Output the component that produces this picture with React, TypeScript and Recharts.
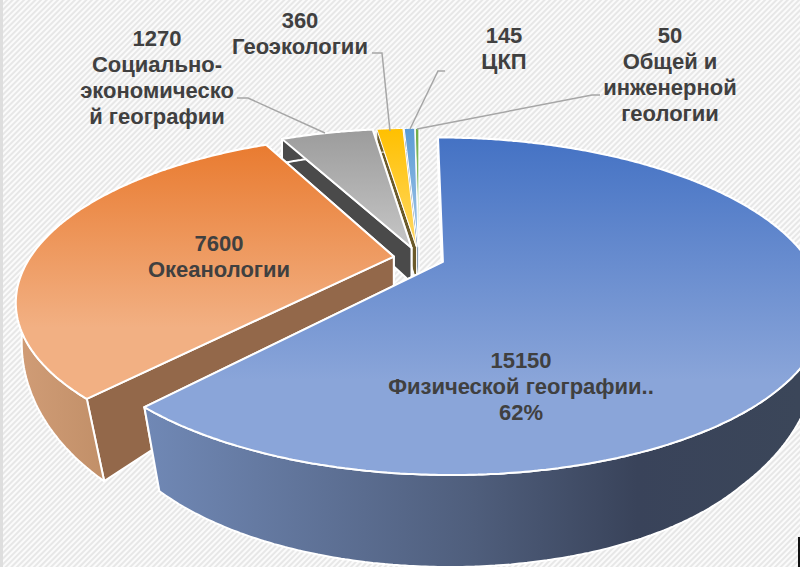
import { Pie, PieChart } from "recharts";

const names = [
  "Физической географии",
  "Океанологии",
  "Социально-экономической географии",
  "Геоэкологии",
  "ЦКП",
  "Общей и инженерной геологии",
];
const values = [15150, 7600, 1270, 360, 145, 50];

const labelLines = [
  ["15150", "Физической географии..", "62%"],
  ["7600", "Океанологии"],
  ["1270", "Социально-", "экономическо", "й географии"],
  ["360", "Геоэкологии"],
  ["145", "ЦКП"],
  ["50", "Общей и", "инженерной", "геологии"],
];
const labelX = [521, 219, 157, 300, 504, 670];
const labelY = [360, 243, 38, 20, 35, 35];
const leaders = [
  "",
  "",
  "M237 98 L248 98 L325 133",
  "M372 53 L382 53 L390 131",
  "M445 71 L438 71 L410 129",
  "M600 95 L592 95 L417 129",
];

// top face gradient, side wall
const topColors = [
  ["#4472c4", "#8aa5d9"],
  ["#e97b30", "#f2b083"],
  ["#9c9c9c", "#c6c6c6"],
  ["#ffc000", "#ffd966"],
  ["#5b9bd5", "#a5c8e8"],
  ["#70ad47", "#a9d18e"],
];
const sideColors = ["#1f2f55", "#93684a", "#4a4a4a", "#6b5a2a", "#33587c", "#43682b"];

// perspective of the tilted disc
const TILT = 0.261;
const SQUASH = 0.426;
const EXPLODE = 0.07;
const BOTTOM_SHRINK = 0.054;

// how far the wall hangs below a top point, y is px below the pie centre
const wallDrop = (y: number) => {
  if (y < 0) return Math.max(20, 36 + 0.1 * y);
  return 36 + 0.459 * y - 0.000926 * y * y;
};

const toPath = (pts: number[][]) => "M" + pts.map((p) => p[0].toFixed(1) + " " + p[1].toFixed(1)).join(" L") + " Z";

function Slice(props: any) {
  const { cx, cy, outerRadius, startAngle, endAngle, name } = props;
  const i = names.indexOf(name);
  const rad = Math.PI / 180;
  const mid = ((startAngle + endAngle) / 2) * rad;
  const ox = EXPLODE * Math.cos(mid);
  const oy = EXPLODE * Math.sin(mid);

  const project = (x: number, y: number) => {
    const s = 1 / (1 + TILT * (y + oy));
    return [cx + outerRadius * (x + ox) * s, cy - outerRadius * SQUASH * (y + oy) * s];
  };
  const lower = (p: number[]) => {
    const dy = p[1] - cy;
    const shrink = BOTTOM_SHRINK * Math.min(1, Math.max(0, dy / 145));
    return [cx + (p[0] - cx) * (1 - shrink), p[1] + wallDrop(dy)];
  };

  const steps = Math.max(2, Math.ceil(Math.abs(endAngle - startAngle) * 2));
  const rim: number[][] = [];
  for (let k = 0; k <= steps; k++) {
    const a = (startAngle + ((endAngle - startAngle) * k) / steps) * rad;
    rim.push(project(Math.cos(a), Math.sin(a)));
  }
  const apex = project(0, 0);
  const first = rim[0];
  const last = rim[rim.length - 1];

  const top = toPath([apex, ...rim]);
  const outer = toPath([...rim, ...[...rim].reverse().map(lower)]);
  const edgeA = toPath([apex, first, lower(first), lower(apex)]);
  const edgeB = toPath([apex, last, lower(last), lower(apex)]);
  const thin = i >= 3;
  const line = { stroke: "#fff", strokeWidth: thin ? 1 : 2, strokeLinejoin: "round" as const };

  return (
    <g>
      <path d={edgeA} fill={sideColors[i]} {...line} />
      <path d={edgeB} fill={sideColors[i]} {...line} />
      <path d={outer} fill={`url(#wall${i})`} {...line} />
      <path d={top} fill={`url(#top${i})`} {...line} />
    </g>
  );
}

function SliceLabel(props: any) {
  const i = names.indexOf(props.name);
  return (
    <g>
      {leaders[i] && <path d={leaders[i]} fill="none" stroke="#a6a6a6" strokeWidth={1.5} />}
      {labelLines[i].map((t, n) => (
        <text
          key={n}
          x={labelX[i]}
          y={labelY[i] + n * 26}
          textAnchor="middle"
          dominantBaseline="central"
          fontFamily="Liberation Sans"
          fontWeight="bold"
          fontSize={22}
          fill="#404040"
        >
          {t}
        </text>
      ))}
    </g>
  );
}

// smallest slices first, so the big ones paint over them
const sliceData = names.map((name, i) => ({ name, value: values[i] })).reverse();

export default function App() {
  return (
    <div style={{ position: "fixed", left: 0, top: 0, width: 800, height: 567, overflow: "hidden", background: "#fff" }}>
      <svg width={800} height={567} style={{ position: "absolute", left: 0, top: 0 }}>
        <defs>
          <pattern id="hatch" width={4} height={4} patternUnits="userSpaceOnUse" patternTransform="rotate(45)">
            <rect width={4} height={4} fill="#fbfbfb" />
            <rect width={2} height={4} fill="#e7e7e7" />
          </pattern>
        </defs>
        <rect width={800} height={567} fill="url(#hatch)" />
        <rect width={3} height={567} fill="#dedede" />
        <rect x={798} y={537} width={2} height={30} fill="#111" />
      </svg>
      <PieChart width={800} height={567} margin={{ top: 0, right: 0, bottom: 0, left: 0 }} style={{ position: "absolute", left: 0, top: 0 }}>
        <defs>
          {topColors.map((c, i) => (
            <linearGradient key={i} id={`top${i}`} x1="0" y1="0" x2="0" y2="1">
              <stop offset="0%" stopColor={c[0]} />
              <stop offset={i < 2 ? "72%" : "100%"} stopColor={c[1]} />
            </linearGradient>
          ))}
          <linearGradient id="wall0" gradientUnits="userSpaceOnUse" x1="147" y1="0" x2="800" y2="0">
            <stop offset="0%" stopColor="#7088b5" />
            <stop offset="50%" stopColor="#4f5e7c" />
            <stop offset="75%" stopColor="#39435a" />
            <stop offset="100%" stopColor="#3b4659" />
          </linearGradient>
          <linearGradient id="wall1" gradientUnits="userSpaceOnUse" x1="20" y1="0" x2="100" y2="0">
            <stop offset="0%" stopColor="#d09c76" />
            <stop offset="100%" stopColor="#c29069" />
          </linearGradient>
          {sideColors.slice(2).map((c, i) => (
            <linearGradient key={i} id={`wall${i + 2}`}>
              <stop offset="0%" stopColor={c} />
            </linearGradient>
          ))}
        </defs>
        <Pie
          data={sliceData}
          dataKey="value"
          nameKey="name"
          cx={419}
          cy={258}
          innerRadius={0}
          outerRadius={364}
          startAngle={90}
          endAngle={450}
          stroke="none"
          shape={Slice}
          label={SliceLabel}
          labelLine={false}
          isAnimationActive={false}
        />
      </PieChart>
    </div>
  );
}
